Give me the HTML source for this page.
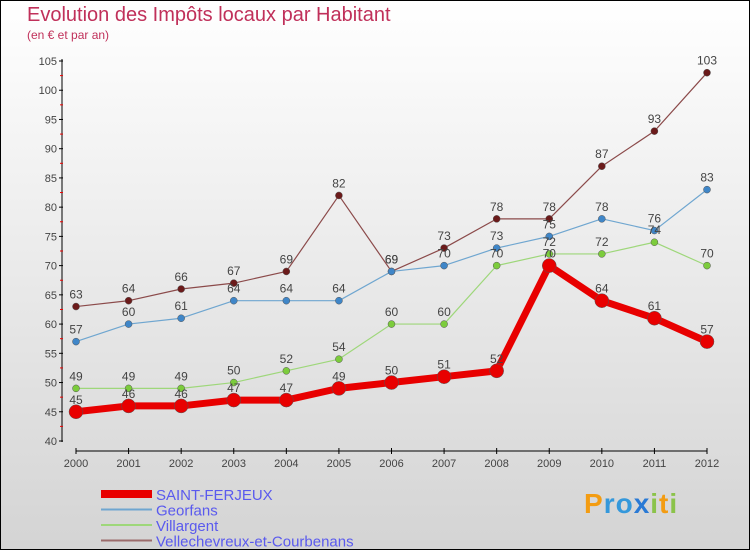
<!DOCTYPE html>
<html><head><meta charset="utf-8"><style>
html,body{margin:0;padding:0}
body{width:750px;height:550px;overflow:hidden;font-family:"Liberation Sans",sans-serif}
#wrap{position:relative;width:748px;height:548px;border:1px solid #000;background:linear-gradient(#fff,#d4d4d4)}
.t{position:absolute;color:#c0305a}
</style></head><body>
<div id="wrap">
<div class="t" style="left:26px;top:3px;font-size:20px">Evolution des Impôts locaux par Habitant</div>
<div class="t" style="left:26px;top:27px;font-size:12px">(en € et par an)</div>
<svg id="chart" width="748" height="548" style="position:absolute;left:0;top:0"></svg>
<div style="position:absolute;left:583px;top:487px;font-size:28px;font-weight:bold;letter-spacing:1px"><span style="color:#f39c12">P</span><span style="color:#3498db">ro</span><span style="color:#2a7ad5">x</span><span style="color:#8bc34a">i</span><span style="color:#f39c12">t</span><span style="color:#8bc34a">i</span></div>
</div>
<script>
const years=[2000,2001,2002,2003,2004,2005,2006,2007,2008,2009,2010,2011,2012];
const saintFerjeux=[45,46,46,47,47,49,50,51,52,70,64,61,57];
const georfans=[57,60,61,64,64,64,69,70,73,75,78,76,83];
const villargent=[49,49,49,50,52,54,60,60,70,72,72,74,70];
const vellechevreux=[63,64,66,67,69,82,69,73,78,78,87,93,103];
const yTicks=[40,45,50,55,60,65,70,75,80,85,90,95,100,105];
const seriesNames=["SAINT-FERJEUX","Georfans","Villargent","Vellechevreux-et-Courbenans"];
const svg=document.getElementById('chart');
const NS='http://www.w3.org/2000/svg';
const x=i=>75+i*(706-75)/(years.length-1);
const y=v=>440-(v-40)*(380/65);
function mk(t,a,p){const e=document.createElementNS(NS,t);for(const k in a)e.setAttribute(k,a[k]);(p||svg).appendChild(e);return e;}
// axes
let ax=mk('line',{x1:61,y1:58,x2:61,y2:441,stroke:'#000','stroke-width':1});


let xa=mk('line',{x1:75,y1:450,x2:706,y2:450,stroke:'#000','stroke-width':1});


yTicks.forEach(v=>{
  mk('line',{x1:58,y1:y(v),x2:62,y2:y(v),stroke:'#000'});
  if(v<105) mk('line',{x1:59,y1:y(v+2.5),x2:62,y2:y(v+2.5),stroke:'#e00'});
  const t=mk('text',{x:56,y:y(v)+4,'text-anchor':'end','font-size':11,fill:'#444','font-family':'Liberation Sans, sans-serif'});
  t.textContent=v;
  
  
});
years.forEach((yr,i)=>{
  mk('line',{x1:x(i),y1:447,x2:x(i),y2:453,stroke:'#000'});
  const t=mk('text',{x:x(i),y:466,'text-anchor':'middle','font-size':11,fill:'#444','font-family':'Liberation Sans, sans-serif'});
  t.textContent=yr;
  
  
});
function series(data,color,dot,w,r,name){
  const g=mk('g',{});
  
  
  mk('polyline',{points:data.map((v,i)=>x(i)+','+y(v)).join(' '),fill:'none',stroke:color,'stroke-width':w,'stroke-linejoin':'round'},g);
  data.forEach((v,i)=>{
    const c=mk('circle',{cx:x(i),cy:y(v),r:r,fill:dot,stroke:'#555','stroke-width':0.5},g);
    
    
    const t=mk('text',{x:x(i),y:y(v)-8,'text-anchor':'middle','font-size':12,fill:'#444','font-family':'Liberation Sans, sans-serif'},g);
    t.textContent=v;
  });
}
series(vellechevreux,'#8b4a4a','#6b1a1a',1.2,3.5,'series-vellechevreux');
series(georfans,'#6fa6d0','#3f86c8',1.2,3.5,'series-georfans');
series(villargent,'#9ed77a','#7ccc3c',1.2,3.5,'series-villargent');
series(saintFerjeux,'#e80000','#e80000',7,7,'series-saint-ferjeux');
// legend
const lc=[['#e80000',8],['#6fa6d0',2],['#9ed77a',2],['#9b6b6b',2]];
seriesNames.forEach((n,i)=>{
  const ly=493+i*15.5;
  const g=mk('g',{});
  
  
  mk('line',{x1:100,y1:ly,x2:151,y2:ly,stroke:lc[i][0],'stroke-width':lc[i][1]},g);
  const t=mk('text',{x:155,y:ly+6,'font-size':15,fill:'#5a5aee','font-family':'Liberation Sans, sans-serif'},g);
  t.textContent=n;
});
</script>
</body></html>
